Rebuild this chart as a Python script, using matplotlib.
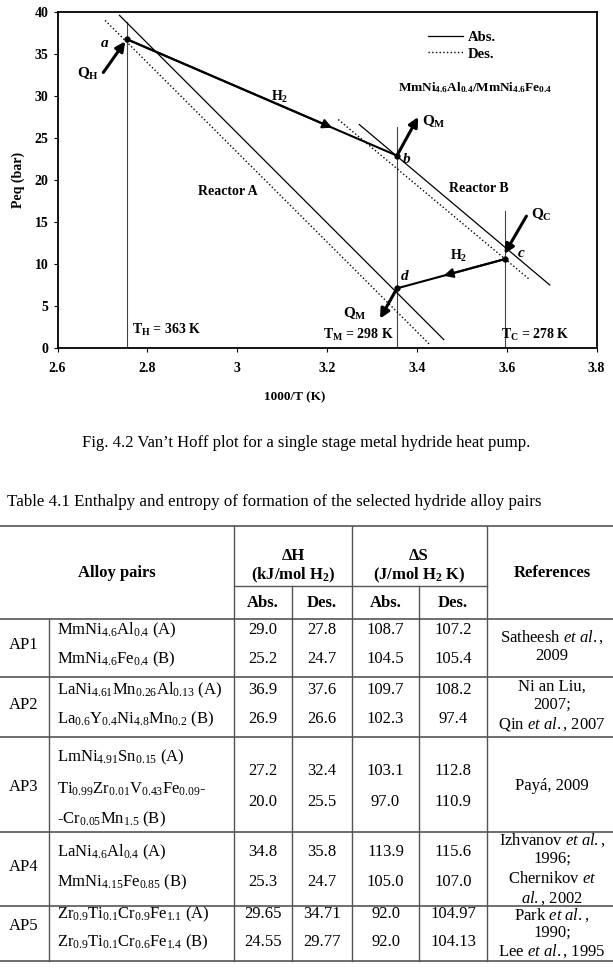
import matplotlib.pyplot as plt

plt.rcParams['font.family'] = 'Liberation Serif'
plt.rcParams['mathtext.fontset'] = 'custom'
plt.rcParams['mathtext.rm'] = 'Liberation Serif'
plt.rcParams['mathtext.it'] = 'Liberation Serif:italic'
plt.rcParams['mathtext.bf'] = 'Liberation Serif:bold'

# ---- chart data ----
temps = [363, 298, 278]            # T_H, T_M, T_C (K)
temp_names = ['H', 'M', 'C']
vline_top = [38.8, 26.3, 16.3]     # top of the isotherm lines (bar)

react_a_abs_x = [2.738, 3.460]
react_a_abs_y = [39.6, 1.0]
react_a_des_x = [2.706, 3.429]
react_a_des_y = [39.0, 0.4]
react_b_abs_x = [3.272, 3.696]
react_b_abs_y = [26.6, 7.5]
react_b_des_x = [3.225, 3.650]
react_b_des_y = [27.2, 8.2]

cycle_names = ['a', 'b', 'c', 'd']
cycle_temp = [0, 1, 2, 1]          # index into temps
cycle_p = [36.75, 22.9, 10.6, 7.1]

xticks = [2.6, 2.8, 3.0, 3.2, 3.4, 3.6, 3.8]
xtick_labels = ['2.6', '2.8', '3', '3.2', '3.4', '3.6', '3.8']
yticks = [0, 5, 10, 15, 20, 25, 30, 35, 40]

# ---- table data ----
pairs = ['AP1', 'AP2', 'AP3', 'AP4', 'AP5']
alloy_a = [r'MmNi$_{\mathrm{4.6}}$Al$_{\mathrm{0.4}}$ (A)',
           r'LaNi$_{\mathrm{4.61}}$Mn$_{\mathrm{0.26}}$Al$_{\mathrm{0.13}}$ (A)',
           r'LmNi$_{\mathrm{4.91}}$Sn$_{\mathrm{0.15}}$ (A)',
           r'LaNi$_{\mathrm{4.6}}$Al$_{\mathrm{0.4}}$ (A)',
           r'Zr$_{\mathrm{0.9}}$Ti$_{\mathrm{0.1}}$Cr$_{\mathrm{0.9}}$Fe$_{\mathrm{1.1}}$ (A)']
alloy_b = [r'MmNi$_{\mathrm{4.6}}$Fe$_{\mathrm{0.4}}$ (B)',
           r'La$_{\mathrm{0.6}}$Y$_{\mathrm{0.4}}$Ni$_{\mathrm{4.8}}$Mn$_{\mathrm{0.2}}$ (B)',
           r'Ti$_{\mathrm{0.99}}$Zr$_{\mathrm{0.01}}$V$_{\mathrm{0.43}}$Fe$_{\mathrm{0.09}}$-' + '\n'
           + r'-Cr$_{\mathrm{0.05}}$Mn$_{\mathrm{1.5}}$ (B)',
           r'MmNi$_{\mathrm{4.15}}$Fe$_{\mathrm{0.85}}$ (B)',
           r'Zr$_{\mathrm{0.9}}$Ti$_{\mathrm{0.1}}$Cr$_{\mathrm{0.6}}$Fe$_{\mathrm{1.4}}$ (B)']
dh_abs = [('29.0', '25.2'), ('36.9', '26.9'), ('27.2', '20.0'), ('34.8', '25.3'), ('29.65', '24.55')]
dh_des = [('27.8', '24.7'), ('37.6', '26.6'), ('32.4', '25.5'), ('35.8', '24.7'), ('34.71', '29.77')]
ds_abs = [('108.7', '104.5'), ('109.7', '102.3'), ('103.1', '97.0'), ('113.9', '105.0'), ('92.0', '92.0')]
ds_des = [('107.2', '105.4'), ('108.2', '97.4'), ('112.8', '110.9'), ('115.6', '107.0'), ('104.97', '104.13')]
refs = [[r'Satheesh $\mathit{et\ al.}$,', '2009'],
        ['Ni an Liu,', '2007;', r'Qin $\mathit{et\ al.}$, 2007'],
        ['Payá, 2009'],
        [r'Izhvanov $\mathit{et\ al.}$,', '1996;', r'Chernikov $\mathit{et}$', r'$\mathit{al.}$, 2002'],
        [r'Park $\mathit{et\ al.}$,', '1990;', r'Lee $\mathit{et\ al.}$, 1995']]

W, H = 613, 969
fig = plt.figure(figsize=(W / 100, H / 100), dpi=100)

# overlay in pixel units for caption and table
tb = fig.add_axes([0, 0, 1, 1])
tb.set_xlim(0, W)
tb.set_ylim(H, 0)
tb.axis('off')

ax = fig.add_axes([57.5 / W, 1 - 348 / H, 539 / W, 336 / H])
ax.set_xlim(2.6, 3.8)
ax.set_ylim(0, 40)

inv_t = [1000 / t for t in temps]
for x, top in zip(inv_t, vline_top):
    ax.plot([x, x], [0, top], color='#444444', lw=0.8)

ax.plot(react_a_abs_x, react_a_abs_y, 'k-', lw=0.9)
ax.plot(react_a_des_x, react_a_des_y, 'k:', lw=1.0)
ax.plot(react_b_abs_x, react_b_abs_y, 'k-', lw=0.9)
ax.plot(react_b_des_x, react_b_des_y, 'k:', lw=1.0)

cx = [inv_t[i] for i in cycle_temp]
pa, pb, pc, pd = zip(cx, cycle_p)

# H2 transfer lines with a mid arrow head
ax.plot([pa[0], pb[0]], [pa[1], pb[1]], 'k-', lw=1.5)
ax.plot([pc[0], pd[0]], [pc[1], pd[1]], 'k-', lw=1.5)
hp = dict(arrowstyle='-|>', color='k', lw=1.5, mutation_scale=14, shrinkA=0, shrinkB=0)
f1 = 0.76
ax.annotate('', xy=(pa[0] + f1 * (pb[0] - pa[0]), pa[1] + f1 * (pb[1] - pa[1])),
            xytext=pa, arrowprops=hp)
f2 = 0.57
ax.annotate('', xy=(pc[0] + f2 * (pd[0] - pc[0]), pc[1] + f2 * (pd[1] - pc[1])),
            xytext=pc, arrowprops=hp)
ax.plot(cx, cycle_p, 'ko', ms=3.5)

# heat flows
qp = dict(arrowstyle='-|>', color='k', lw=2.2, mutation_scale=14, shrinkA=0, shrinkB=0)
ax.annotate('', xy=(pa[0] - 0.004, pa[1] - 0.25), xytext=(2.702, 32.8), arrowprops=qp)
ax.annotate('', xy=(3.403, 27.5), xytext=pb, arrowprops=qp)
ax.annotate('', xy=(pc[0] - 0.002, pc[1] + 0.6), xytext=(3.644, 15.7), arrowprops=qp)
ax.annotate('', xy=(3.318, 3.5), xytext=pd, arrowprops=qp)

bold = dict(fontweight='bold')
ax.text(2.667, 32.6, r'Q$_\mathbf{H}$', fontsize=11, ha='center', va='center', **bold)
ax.text(3.412, 26.9, r'Q$_\mathbf{M}$', fontsize=11, ha='left', va='center', **bold)
ax.text(3.655, 15.8, r'Q$_\mathbf{C}$', fontsize=11, ha='left', va='center', **bold)
ax.text(3.262, 4.1, r'Q$_\mathbf{M}$', fontsize=11, ha='center', va='center', **bold)

offs = [(-0.05, -0.5), (0.022, -0.45), (0.035, 0.7), (0.017, 1.4)]
for name, x, y, (dx, dy) in zip(cycle_names, cx, cycle_p, offs):
    ax.text(x + dx, y + dy, name, fontsize=11, style='italic', ha='center', va='center', **bold)

ax.text(3.095, 29.9, r'H$_\mathbf{2}$', fontsize=10, ha='center', va='center', **bold)
ax.text(3.494, 10.95, r'H$_\mathbf{2}$', fontsize=10, ha='center', va='center', **bold)
ax.text(2.98, 18.6, 'Reactor A', fontsize=10, ha='center', va='center', **bold)
ax.text(3.539, 19.0, 'Reactor B', fontsize=10, ha='center', va='center', **bold)
ax.text(3.529, 31.0, r'MmNi$_\mathbf{4.6}$Al$_\mathbf{0.4}$/MmNi$_\mathbf{4.6}$Fe$_\mathbf{0.4}$',
        fontsize=9.5, ha='center', va='center', **bold)

tlab_pos = [(inv_t[0] + 0.01, 2.1, 'left'), (inv_t[1] - 0.008, 1.55, 'right'), (inv_t[2] - 0.01, 1.55, 'left')]
for n, t, (x, y, ha) in zip(temp_names, temps, tlab_pos):
    ax.text(x, y, r'T$_\mathbf{%s}$ = %d K' % (n, t), fontsize=10, ha=ha, va='center', **bold)

# legend
ax.plot([], [], 'k-', lw=0.9, label='Abs.')
ax.plot([], [], 'k:', lw=1.0, label='Des.')
ax.legend(loc='upper left', bbox_to_anchor=(3.425, 37.8), bbox_transform=ax.transData,
          frameon=False, prop=dict(weight='bold', size=10.5), handlelength=2.4,
          handletextpad=0.3, labelspacing=0.25, borderpad=0, borderaxespad=0)

ax.set_xticks(xticks)
ax.set_xticklabels(xtick_labels)
ax.set_yticks(yticks)
ax.tick_params(direction='out', length=3, width=0.8, labelsize=10)
ax.tick_params(axis='x', pad=7)
for lab in ax.get_xticklabels() + ax.get_yticklabels():
    lab.set_fontweight('bold')
for s in ax.spines.values():
    s.set_linewidth(1.3)
ax.set_xlabel('1000/T (K)', fontsize=9.5, fontweight='bold')
ax.xaxis.set_label_coords(0.44, -0.128)
ax.set_ylabel('Peq (bar)', fontsize=10, fontweight='bold')
ax.yaxis.set_label_coords(-0.06, 0.5)

# ---- caption and table ----
tb.text(82, 443, 'Fig. 4.2 Van\u2019t Hoff plot for a single stage metal hydride heat pump.',
        fontsize=12, ha='left', va='center')
tb.text(7, 502, 'Table 4.1 Enthalpy and entropy of formation of the selected hydride alloy pairs',
        fontsize=12.2, ha='left', va='center')

lc = '#555555'
row_lines = [526, 619, 677, 737, 832, 906, 961]
for y in row_lines:
    tb.plot([0, W], [y, y], color=lc, lw=1.2)
tb.plot([234, 486.5], [586, 586], color=lc, lw=1.0)
for x in [234, 352, 486.5]:
    tb.plot([x, x], [526, 961], color=lc, lw=1.0)
for x in [292, 419]:
    tb.plot([x, x], [586, 961], color=lc, lw=1.0)
tb.plot([49, 49], [619, 961], color=lc, lw=1.0)

fs = 12
tb.text(117, 573, 'Alloy pairs', fontsize=fs, ha='center', va='center', **bold)
tb.text(293, 556, '\u0394H', fontsize=fs, ha='center', va='center', **bold)
tb.text(293, 575, r'(kJ/mol H$_\mathbf{2}$)', fontsize=fs, ha='center', va='center', **bold)
tb.text(419, 556, '\u0394S', fontsize=fs, ha='center', va='center', **bold)
tb.text(419, 575, r'(J/mol H$_\mathbf{2}$ K)', fontsize=fs, ha='center', va='center', **bold)
tb.text(552, 573, 'References', fontsize=fs, ha='center', va='center', **bold)
for x, s in zip([263, 322, 385.5, 453], ['Abs.', 'Des.', 'Abs.', 'Des.']):
    tb.text(x, 603, s, fontsize=fs, ha='center', va='center', **bold)

# per-pair layout rows (pixel y)
label_y = [645, 705, 787, 867, 926]
a_y = [630, 690, 757, 852, 914]
b_y = [659, 719, 805, 882, 942]
val_y = [(630, 659), (690, 719), (771, 802), (852, 882), (914, 942)]
ref_y = [[637, 656], [687, 705, 724], [786], [840, 859, 879, 898], [915, 933, 951]]
col_x = [263, 322, 385.5, 453]

for i, p in enumerate(pairs):
    tb.text(24, label_y[i], p, fontsize=fs, ha='center', va='center')
    tb.text(57, a_y[i], alloy_a[i], fontsize=fs, ha='left', va='center')
    if i == 2:
        tb.text(57, b_y[i], alloy_b[i], fontsize=fs, ha='left', va='center', linespacing=1.9)
    else:
        tb.text(57, b_y[i], alloy_b[i], fontsize=fs, ha='left', va='center')
    for x, col in zip(col_x, [dh_abs, dh_des, ds_abs, ds_des]):
        for y, v in zip(val_y[i], col[i]):
            tb.text(x, y, v, fontsize=fs, ha='center', va='center')
    for y, r in zip(ref_y[i], refs[i]):
        tb.text(552, y, r, fontsize=fs, ha='center', va='center')

fig.savefig('out.png', dpi=100)
